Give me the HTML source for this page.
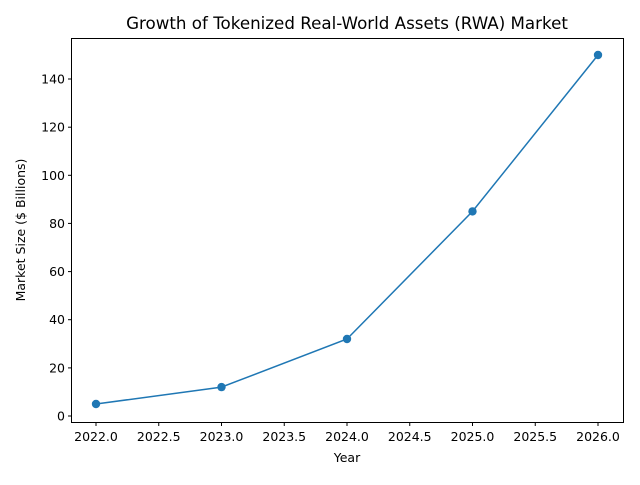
<!DOCTYPE html>
<html><head><meta charset="utf-8"><style>body{margin:0;background:#fff}</style></head><body>
<svg width="640" height="480" xmlns="http://www.w3.org/2000/svg" font-family="DejaVu Sans, sans-serif">
<rect width="640" height="480" fill="#fff"/>
<text x="347" y="29" font-size="16.7" text-anchor="middle" fill="#000">Growth of Tokenized Real-World Assets (RWA) Market</text>
<rect x="71.5" y="38.5" width="552" height="384" fill="none" stroke="#000" stroke-width="1"/>
<g stroke="#000" stroke-width="1">
<line x1="96" y1="422.5" x2="96" y2="426"/>
<line x1="158.75" y1="422.5" x2="158.75" y2="426"/>
<line x1="221.5" y1="422.5" x2="221.5" y2="426"/>
<line x1="284.25" y1="422.5" x2="284.25" y2="426"/>
<line x1="347" y1="422.5" x2="347" y2="426"/>
<line x1="409.75" y1="422.5" x2="409.75" y2="426"/>
<line x1="472.5" y1="422.5" x2="472.5" y2="426"/>
<line x1="535.25" y1="422.5" x2="535.25" y2="426"/>
<line x1="598" y1="422.5" x2="598" y2="426"/>
<line x1="68" y1="416" x2="71.5" y2="416"/>
<line x1="68" y1="367.9" x2="71.5" y2="367.9"/>
<line x1="68" y1="319.7" x2="71.5" y2="319.7"/>
<line x1="68" y1="271.6" x2="71.5" y2="271.6"/>
<line x1="68" y1="223.4" x2="71.5" y2="223.4"/>
<line x1="68" y1="175.3" x2="71.5" y2="175.3"/>
<line x1="68" y1="127.2" x2="71.5" y2="127.2"/>
<line x1="68" y1="79" x2="71.5" y2="79"/>
</g>
<g font-size="12.5" text-anchor="middle" fill="#000">
<text x="96" y="441">2022.0</text><text x="158.75" y="441">2022.5</text><text x="221.5" y="441">2023.0</text>
<text x="284.25" y="441">2023.5</text><text x="347" y="441">2024.0</text><text x="409.75" y="441">2024.5</text>
<text x="472.5" y="441">2025.0</text><text x="535.25" y="441">2025.5</text><text x="598" y="441">2026.0</text>
<text x="347" y="462">Year</text>
</g>
<g font-size="12.5" text-anchor="end" fill="#000">
<text x="65" y="420.5">0</text><text x="65" y="372.4">20</text><text x="65" y="324.2">40</text><text x="65" y="276.1">60</text>
<text x="65" y="227.9">80</text><text x="65" y="179.8">100</text><text x="65" y="131.7">120</text><text x="65" y="83.5">140</text>
</g>
<text transform="translate(25,230) rotate(-90)" font-size="12.5" text-anchor="middle">Market Size ($ Billions)</text>
<polyline points="96,404 221.5,387.1 347,339 472.5,211.4 598,55" fill="none" stroke="#1f77b4" stroke-width="1.5"/>
<g fill="#1f77b4">
<circle cx="96" cy="404" r="4.2"/><circle cx="221.5" cy="387.1" r="4.2"/><circle cx="347" cy="339" r="4.2"/>
<circle cx="472.5" cy="211.4" r="4.2"/><circle cx="598" cy="55" r="4.2"/>
</g>
</svg>
</body></html>
